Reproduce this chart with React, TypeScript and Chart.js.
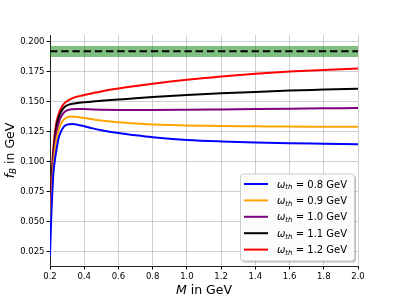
import React, { useEffect, useRef } from "react";
import { Chart, registerables } from "chart.js";

Chart.register(...registerables);

const M = [0.2, 0.205, 0.21, 0.215, 0.22, 0.23, 0.24, 0.25, 0.26, 0.28, 0.3, 0.33, 0.36, 0.4, 0.45, 0.5, 0.6, 0.7, 0.8, 1.0, 1.2, 1.4, 1.6, 1.8, 2.0];

const fB08 = [0.022, 0.045, 0.064, 0.079, 0.091, 0.103, 0.112, 0.1195, 0.124, 0.1292, 0.1311, 0.1316, 0.1311, 0.1298, 0.128, 0.1265, 0.1241, 0.1222, 0.1206, 0.1184, 0.1171, 0.1162, 0.1156, 0.1152, 0.1148];
const fB09 = [0.035, 0.055, 0.072, 0.086, 0.097, 0.111, 0.12, 0.1262, 0.1305, 0.1352, 0.1372, 0.1378, 0.1375, 0.1366, 0.1355, 0.1345, 0.133, 0.132, 0.1313, 0.1304, 0.1299, 0.1297, 0.1295, 0.1294, 0.1293];
const fB10 = [0.042, 0.062, 0.079, 0.092, 0.103, 0.117, 0.126, 0.132, 0.1363, 0.141, 0.143, 0.144, 0.1442, 0.1441, 0.1438, 0.1436, 0.1434, 0.1433, 0.1433, 0.1435, 0.1438, 0.1441, 0.1444, 0.1447, 0.145];
const fB11 = [0.05, 0.068, 0.084, 0.097, 0.108, 0.122, 0.131, 0.1365, 0.1405, 0.1451, 0.1472, 0.1485, 0.1492, 0.1497, 0.1504, 0.151, 0.152, 0.1531, 0.1541, 0.1558, 0.1572, 0.1584, 0.1595, 0.1603, 0.1611];
const fB12 = [0.055, 0.073, 0.089, 0.102, 0.112, 0.126, 0.1345, 0.1398, 0.1435, 0.1482, 0.1508, 0.153, 0.1545, 0.1558, 0.1573, 0.1588, 0.1612, 0.1633, 0.1652, 0.1685, 0.1712, 0.1735, 0.1753, 0.1767, 0.1778];

const omegaLabels = ["0.8", "0.9", "1.0", "1.1", "1.2"];
const seriesColors = ["#0000ff", "#ffa500", "#800080", "#000000", "#ff0000"];
const seriesValues = [fB08, fB09, fB10, fB11, fB12];

const bandX = [0.2, 2.0];
const bandLow = 0.1875;
const bandHigh = 0.1967;
const expCentral = 0.1922;

const xTicks = [0.2, 0.4, 0.6, 0.8, 1.0, 1.2, 1.4, 1.6, 1.8, 2.0];
const yTicks = [0.025, 0.05, 0.075, 0.1, 0.125, 0.15, 0.175, 0.2];

const FONT = "'DejaVu Sans', sans-serif";

type Seg = { t: string; italic?: boolean; size: number; dy?: number };

function drawSegs(ctx: CanvasRenderingContext2D, segs: Seg[], x: number, y: number, align: "left" | "center") {
  let total = 0;
  for (const s of segs) {
    ctx.font = `${s.italic ? "oblique " : ""}${s.size}px ${FONT}`;
    total += ctx.measureText(s.t).width;
  }
  let cx = align === "center" ? x - total / 2 : x;
  for (const s of segs) {
    ctx.font = `${s.italic ? "oblique " : ""}${s.size}px ${FONT}`;
    ctx.fillText(s.t, cx, y + (s.dy || 0));
    cx += ctx.measureText(s.t).width;
  }
}

const decorPlugin = {
  id: "decor",
  afterDraw(chart: any) {
    const ctx: CanvasRenderingContext2D = chart.ctx;
    const area = chart.chartArea;
    ctx.save();
    ctx.fillStyle = "#000";
    ctx.textBaseline = "alphabetic";
    // x title
    drawSegs(ctx, [
      { t: "M", italic: true, size: 12.5 },
      { t: " in GeV", size: 12.5 },
    ], (area.left + area.right) / 2, 294, "center");
    // y title
    ctx.save();
    ctx.translate(13.5, (area.top + area.bottom) / 2);
    ctx.rotate(-Math.PI / 2);
    drawSegs(ctx, [
      { t: "f", italic: true, size: 12.5 },
      { t: "B", italic: true, size: 8.8, dy: 2.5 },
      { t: " in GeV", size: 12.5 },
    ], 0, 0, "center");
    ctx.restore();

    // legend
    const lx = 240.5, ly = 174, lw = 114, lh = 87, r = 3;
    const rr = (x: number, y: number, w: number, h: number) => {
      ctx.beginPath();
      ctx.moveTo(x + r, y);
      ctx.lineTo(x + w - r, y);
      ctx.arcTo(x + w, y, x + w, y + r, r);
      ctx.lineTo(x + w, y + h - r);
      ctx.arcTo(x + w, y + h, x + w - r, y + h, r);
      ctx.lineTo(x + r, y + h);
      ctx.arcTo(x, y + h, x, y + h - r, r);
      ctx.lineTo(x, y + r);
      ctx.arcTo(x, y, x + r, y, r);
      ctx.closePath();
    };
    rr(lx + 1.5, ly + 1.5, lw, lh);
    ctx.fillStyle = "rgba(0,0,0,0.25)";
    ctx.fill();
    rr(lx, ly, lw, lh);
    ctx.fillStyle = "rgba(255,255,255,0.95)";
    ctx.fill();
    ctx.strokeStyle = "#cccccc";
    ctx.lineWidth = 1;
    ctx.stroke();

    for (let i = 0; i < omegaLabels.length; i++) {
      const cy = 184 + i * 16.4;
      ctx.strokeStyle = seriesColors[i];
      ctx.lineWidth = 2;
      ctx.beginPath();
      ctx.moveTo(244, cy);
      ctx.lineTo(268, cy);
      ctx.stroke();
      ctx.fillStyle = "#000";
      drawSegs(ctx, [
        { t: "\u03c9", italic: true, size: 10 },
        { t: "th", italic: true, size: 7, dy: 1.8 },
        { t: " = " + omegaLabels[i] + " GeV", size: 10 },
      ], 277, cy + 3.6, "left");
    }
    ctx.restore();
  },
};

export default function App() {
  const ref = useRef<HTMLCanvasElement | null>(null);
  useEffect(() => {
    if (!ref.current) return;
    const curveSets = seriesValues.map((vals, i) => ({
      label: "\u03c9th = " + omegaLabels[i] + " GeV",
      data: M.map((m, j) => ({ x: m, y: vals[j] })),
      borderColor: seriesColors[i],
      backgroundColor: seriesColors[i],
      borderWidth: 2,
      pointRadius: 0,
      cubicInterpolationMode: "monotone" as const,
      fill: false,
      order: 1,
    }));
    const chart = new Chart(ref.current, {
      type: "line",
      data: {
        datasets: [
          {
            label: "bandLow",
            data: bandX.map((x) => ({ x, y: bandLow })),
            borderWidth: 0,
            borderColor: "rgba(0,0,0,0)",
            pointRadius: 0,
            fill: false,
            order: 3,
          },
          {
            label: "bandHigh",
            data: bandX.map((x) => ({ x, y: bandHigh })),
            borderWidth: 0,
            borderColor: "rgba(0,0,0,0)",
            backgroundColor: "rgba(0,128,0,0.5)",
            pointRadius: 0,
            fill: "-1",
            order: 3,
          },
          {
            label: "exp",
            data: bandX.map((x) => ({ x, y: expCentral })),
            borderColor: "#000",
            borderWidth: 2,
            borderDash: [7.4, 3.8],
            pointRadius: 0,
            fill: false,
            order: 2,
          },
          ...curveSets,
        ],
      },
      options: {
        responsive: false,
        animation: false,
        layout: { padding: { top: 35, right: 41, left: 0, bottom: 0 } },
        plugins: { legend: { display: false }, tooltip: { enabled: false } },
        scales: {
          x: {
            type: "linear",
            min: 0.2,
            max: 2.0,
            afterFit: (s: any) => { s.height = 33; },
            afterBuildTicks: (s: any) => { s.ticks = xTicks.map((v) => ({ value: v })); },
            ticks: {
              color: "#000",
              font: { family: FONT, size: 8.5 },
              padding: 2,
              maxRotation: 0,
              callback: (v: any) => Number(v).toFixed(1),
            },
            grid: { color: "rgba(176,176,176,0.6)", lineWidth: 1, tickColor: "#000", tickLength: 3.5 },
            border: { color: "#222", width: 1 },
          },
          y: {
            type: "linear",
            min: 0.0133,
            max: 0.2058,
            afterFit: (s: any) => { s.width = 50; },
            afterBuildTicks: (s: any) => { s.ticks = yTicks.map((v) => ({ value: v })); },
            ticks: {
              color: "#000",
              font: { family: FONT, size: 8.5 },
              padding: 2,
              callback: (v: any) => Number(v).toFixed(3),
            },
            grid: { color: "rgba(176,176,176,0.6)", lineWidth: 1, tickColor: "#000", tickLength: 3.5 },
            border: { color: "#222", width: 1 },
          },
        },
      },
      plugins: [decorPlugin],
    } as any);
    return () => chart.destroy();
  }, []);
  return (
    <div style={{ position: "fixed", left: 0, top: 0, width: 399, height: 299, background: "#fff" }}>
      <canvas ref={ref} width={399} height={299} style={{ width: 399, height: 299, display: "block" }} />
    </div>
  );
}
